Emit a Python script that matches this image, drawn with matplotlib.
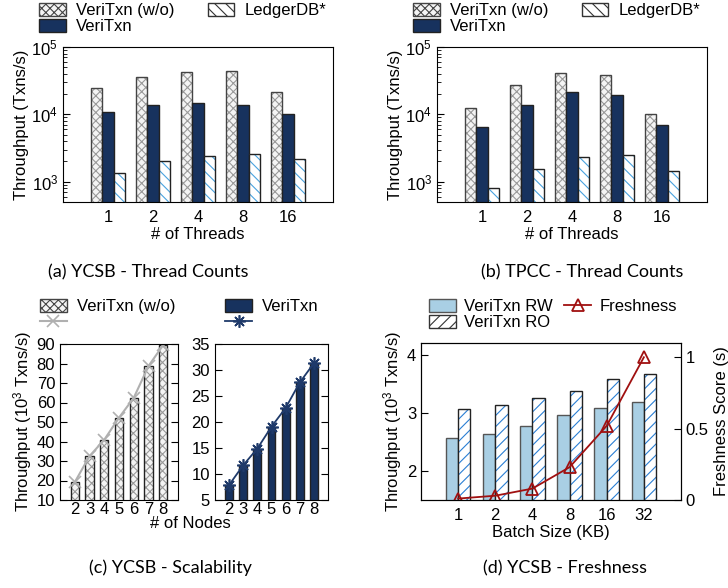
import numpy as np
import matplotlib
matplotlib.use("Agg")
import matplotlib.pyplot as plt

plt.rcParams['font.family'] = ['Liberation Sans', 'DejaVu Sans']
plt.rcParams['font.size'] = 12
plt.rcParams['mathtext.default'] = 'regular'
plt.rcParams['hatch.linewidth'] = 0.8

# data
threads = ['1', '2', '4', '8', '16']
ycsb_wo = [24800, 36000, 43000, 44500, 21600]
ycsb_vt = [10900, 14000, 14700, 13900, 10200]
ycsb_ldb = [1370, 2000, 2420, 2560, 2190]
tpcc_wo = [12300, 27400, 41300, 38100, 10200]
tpcc_vt = [6570, 14000, 21600, 19100, 7030]
tpcc_ldb = [815, 1570, 2340, 2530, 1450]

nodes = [2, 3, 4, 5, 6, 7, 8]
scale_wo = [19.1, 32.5, 40.9, 52.2, 62.4, 78.7, 89.5]
scale_vt = [7.9, 11.7, 14.9, 19.1, 22.7, 27.6, 31.3]

batch = ['1', '2', '4', '8', '16', '32']
rw = [2.57, 2.64, 2.78, 2.97, 3.09, 3.18]
ro = [3.06, 3.13, 3.25, 3.38, 3.58, 3.67]
fresh = [0.01, 0.03, 0.08, 0.23, 0.52, 1.0]

NAVY = '#17325e'
GRAY_H = '#9a9a9a'
BLUE_H = '#4aa3df'
EDGE = '#222222'
RED = '#a01010'
LBLUE = '#a9cfe4'


def hbar(ax, x, h, w, fc, hatch, hc, ec=EDGE):
    # hatch drawn in its own colour, outline on top
    ax.bar(x, h, w, color=fc, hatch=hatch, edgecolor=hc, linewidth=0)
    ax.bar(x, h, w, fill=False, edgecolor=ec, linewidth=1.0)


fig = plt.figure(figsize=(7.28, 5.88), dpi=100)
W, H = 728.0, 588.0


def axbox(l, r, t, b):
    return [l / W, 1 - b / H, (r - l) / W, (b - t) / H]


LEG = dict(frameon=False, borderpad=0, borderaxespad=0, handlelength=1.6,
           handleheight=0.8, labelspacing=0.05, loc='upper left')


def thread_panel(box, wo, vt, ldb, leg_x):
    ax = fig.add_axes(box)
    x = np.arange(len(threads))
    w = 0.25
    hbar(ax, x - w, wo, w, '#f4f4f4', 'xxxx', GRAY_H, ec='#444444')
    ax.bar(x, vt, w, color=NAVY, edgecolor=EDGE, linewidth=1.0)
    hbar(ax, x + w, ldb, w, 'white', '\\\\\\', BLUE_H)
    ax.set_yscale('log')
    ax.set_ylim(500, 1e5)
    ax.set_xlim(-1, 5)
    ax.set_xticks(x)
    ax.set_xticklabels(threads)
    ax.tick_params(axis='x', length=0, pad=6)
    ax.tick_params(axis='y', which='both', direction='in', right=False)
    ax.tick_params(axis='y', which='major', length=5)
    ax.tick_params(axis='y', which='minor', length=3)
    ax.set_xlabel('# of Threads', labelpad=1)
    ax.set_ylabel('Throughput (Txns/s)', labelpad=2)
    h_wo = plt.Rectangle((0, 0), 1, 1, facecolor='#f4f4f4', hatch='xxxx', edgecolor='#444444', linewidth=1)
    h_vt = plt.Rectangle((0, 0), 1, 1, facecolor=NAVY, edgecolor=EDGE, linewidth=1)
    h_ld = plt.Rectangle((0, 0), 1, 1, facecolor='white', hatch='\\\\\\', edgecolor='#333333', linewidth=1)
    fig.legend([h_wo, h_vt, h_ld], ['VeriTxn (w/o)', 'VeriTxn', 'LedgerDB*'],
               ncol=2, bbox_to_anchor=(leg_x / W, 1 - 3 / H),
               handletextpad=0.6, columnspacing=2.0, **LEG)
    return ax


thread_panel(axbox(63, 333, 47, 202), ycsb_wo, ycsb_vt, ycsb_ldb, 39)
thread_panel(axbox(437, 707, 47, 202), tpcc_wo, tpcc_vt, tpcc_ldb, 413)

# (c) scalability
axl = fig.add_axes(axbox(60, 178, 344, 500))
axr = fig.add_axes(axbox(215, 328, 344, 500))
bw = 0.55
hbar(axl, nodes, scale_wo, bw, '#f4f4f4', 'xxxx', GRAY_H)
ln_wo, = axl.plot(nodes, scale_wo, color='#b0b0b0', lw=1.5, marker='x', ms=8, mew=1.2)
axr.bar(nodes, scale_vt, bw, color=NAVY, edgecolor=EDGE, linewidth=1.0)
ln_vt, = axr.plot(nodes, scale_vt, color='#1f3a6a', lw=1.3, marker=(8, 2, 0), ms=9, mew=1.2)
axl.set_ylim(10, 90)
axl.set_yticks(range(10, 91, 10))
axr.set_ylim(5, 35)
axr.set_yticks(range(5, 36, 5))
for ax in (axl, axr):
    ax.set_xlim(1, 9)
    ax.set_xticks(nodes)
    ax.tick_params(axis='x', length=0, pad=1.5)
    ax.tick_params(axis='y', direction='in', right=True, length=5)
axl.set_ylabel('Throughput (10$^3$ Txns/s)', labelpad=2)
fig.text(190 / W, 1 - 524 / H, '# of Nodes', ha='center', va='center', fontsize=12)
h_wo = plt.Rectangle((0, 0), 1, 1, facecolor='#f4f4f4', hatch='xxxx', edgecolor='#444444', linewidth=1)
h_vt = plt.Rectangle((0, 0), 1, 1, facecolor=NAVY, edgecolor=EDGE, linewidth=1)
fig.legend([h_wo, ln_wo, h_vt, ln_vt], ['VeriTxn (w/o)', '', 'VeriTxn', ''],
           ncol=2, bbox_to_anchor=(40 / W, 1 - 299 / H),
           handletextpad=0.6, columnspacing=3.0, **LEG)

# (d) freshness
axd = fig.add_axes(axbox(421, 681, 343, 500))
xb = np.arange(len(batch))
w = 0.33
axd.bar(xb - w / 2, rw, w, color=LBLUE, edgecolor='#555555', linewidth=1.0)
hbar(axd, xb + w / 2, ro, w, 'white', '///', '#2a7fd4')
axd.set_ylim(1.5, 4.2)
axd.set_yticks([2, 3, 4])
axd.set_xlim(-1, 6)
axd.set_xticks(xb)
axd.set_xticklabels(batch)
axd.tick_params(axis='x', length=0, pad=6)
axd.tick_params(axis='y', direction='in', length=5)
axd.set_xlabel('Batch Size (KB)', labelpad=1)
axd.set_ylabel('Throughput (10$^3$ Txns/s)', labelpad=2)
axd2 = axd.twinx()
ln_f, = axd2.plot(xb, fresh, color=RED, lw=1.3, marker='^', ms=8, mfc='none', mew=1.3)
axd2.set_ylim(0, 1.1)
axd2.set_yticks([0, 0.5, 1])
axd2.set_yticklabels(['0', '0.5', '1'])
axd2.tick_params(axis='y', direction='in', length=5)
axd2.set_ylabel('Freshness Score (s)', labelpad=4)
h_rw = plt.Rectangle((0, 0), 1, 1, facecolor=LBLUE, edgecolor='#555555', linewidth=1)
h_ro = plt.Rectangle((0, 0), 1, 1, facecolor='white', hatch='///', edgecolor='#333333', linewidth=1)
fig.legend([h_rw, h_ro, ln_f], ['VeriTxn RW', 'VeriTxn RO', 'Freshness'],
           ncol=2, bbox_to_anchor=(429 / W, 1 - 299 / H),
           handletextpad=0.5, columnspacing=0.7, **LEG)

# sub-captions
cap = dict(ha='center', va='center', fontsize=13, family=['Lato', 'DejaVu Sans'])
fig.text(148 / W, 1 - 272 / H, '(a) YCSB - Thread Counts', **cap)
fig.text(582 / W, 1 - 272 / H, '(b) TPCC - Thread Counts', **cap)
fig.text(170 / W, 1 - 568 / H, '(c) YCSB - Scalability', **cap)
fig.text(565 / W, 1 - 568 / H, '(d) YCSB - Freshness', **cap)

fig.savefig('out.png', dpi=100)
